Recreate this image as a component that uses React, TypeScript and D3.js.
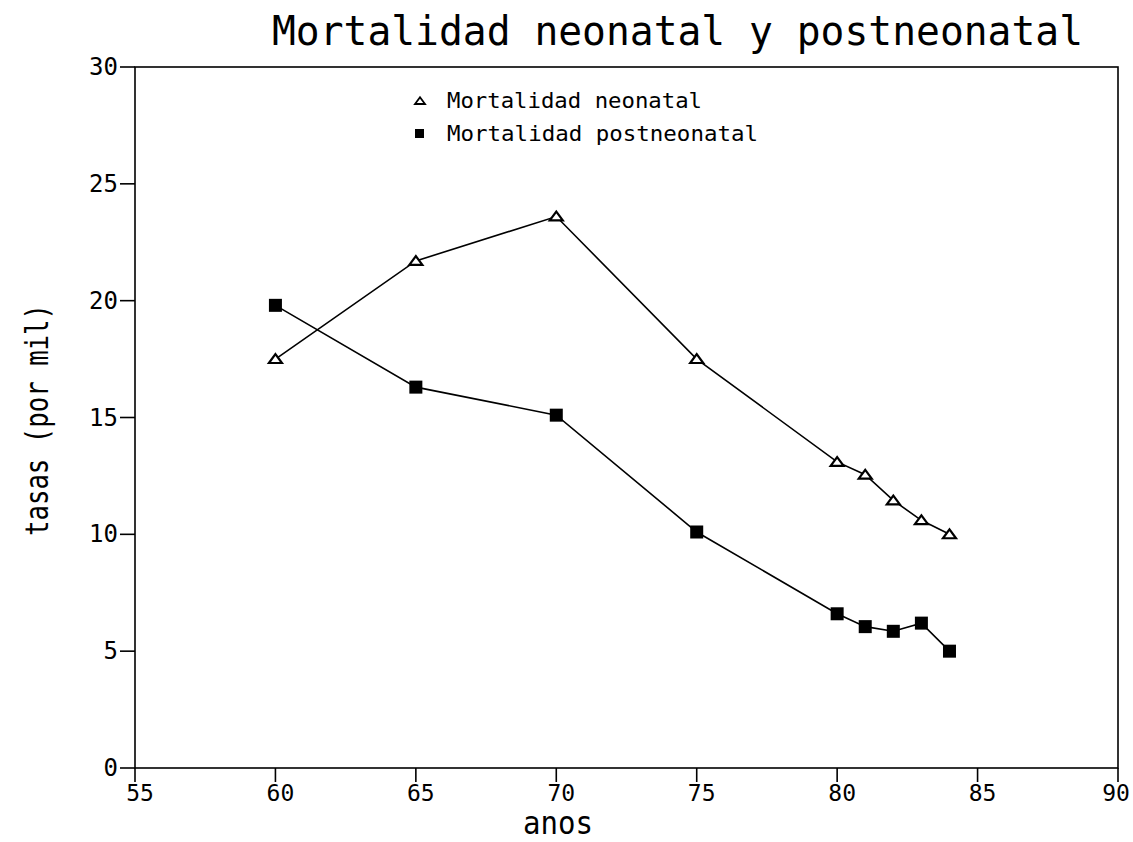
import React from "react";
import * as d3 from "d3";

const years = [60, 65, 70, 75, 80, 81, 82, 83, 84];
const neonatal = [17.5, 21.7, 23.6, 17.5, 13.1, 12.55, 11.45, 10.6, 10.0];
const postneonatal = [19.8, 16.3, 15.1, 10.1, 6.6, 6.05, 5.85, 6.2, 5.0];
const xTicks = [55, 60, 65, 70, 75, 80, 85, 90];
const yTicks = [0, 5, 10, 15, 20, 25, 30];
const title = "Mortalidad neonatal y postneonatal";
const xTitle = "anos";
const yTitle = "tasas (por mil)";
const legendLabels = ["Mortalidad neonatal", "Mortalidad postneonatal"];

const FONT = "'DejaVu Sans Mono', 'Liberation Mono', monospace";

export default function App() {
  const W = 1133, H = 842;
  const left = 135, right = 1118, top = 67, bottom = 768;
  const x = d3.scaleLinear().domain([55, 90]).range([left, right]);
  const y = d3.scaleLinear().domain([0, 30]).range([bottom, top]);
  const line = d3.line<number>().x((_, i) => x(years[i])).y((d) => y(d));

  const tri = (cx: number, cy: number, s: number) =>
    `M${cx - s},${cy + s * 0.6}L${cx + s},${cy + s * 0.6}L${cx},${cy - s * 0.75}Z`;

  return (
    <svg width={W} height={H} style={{ position: "absolute", left: 0, top: 0, background: "#fff" }}>
      <rect x={0} y={0} width={W} height={H} fill="#fff" />
      <text x={272} y={45} fontFamily={FONT} fontSize={40} textLength={811} lengthAdjust="spacingAndGlyphs" fill="#000">
        {title}
      </text>
      {/* frame */}
      <rect x={left} y={top} width={right - left} height={bottom - top} fill="none" stroke="#000" strokeWidth={1.6} />
      {/* y ticks */}
      {yTicks.map((t) => (
        <g key={"y" + t}>
          <line x1={left - 15} x2={left} y1={y(t)} y2={y(t)} stroke="#000" strokeWidth={1.6} />
          <text x={left - 17} y={y(t) + 8} textAnchor="end" fontFamily={FONT} fontSize={24} fill="#000">
            {t}
          </text>
        </g>
      ))}
      {/* x ticks */}
      {xTicks.map((t) => (
        <g key={"x" + t}>
          <line x1={x(t)} x2={x(t)} y1={bottom} y2={bottom + 14} stroke="#000" strokeWidth={1.6} />
          <text
            x={Math.min(x(t) + 5, W - 17)}
            y={801}
            textAnchor="middle"
            fontFamily={FONT}
            fontSize={23}
            fill="#000"
          >
            {t}
          </text>
        </g>
      ))}
      <text x={523} y={834} fontFamily={FONT} fontSize={32} textLength={70} lengthAdjust="spacingAndGlyphs" fill="#000">
        {xTitle}
      </text>
      <text
        transform={`translate(48,536) rotate(-90)`}
        fontFamily={FONT}
        fontSize={32}
        textLength={232}
        lengthAdjust="spacingAndGlyphs"
        fill="#000"
      >
        {yTitle}
      </text>
      {/* lines */}
      <path d={line(neonatal) || ""} fill="none" stroke="#000" strokeWidth={1.6} />
      <path d={line(postneonatal) || ""} fill="none" stroke="#000" strokeWidth={1.6} />
      {neonatal.map((v, i) => (
        <path key={"n" + i} d={tri(x(years[i]), y(v), 6.5)} fill="#fff" stroke="#000" strokeWidth={2.2} />
      ))}
      {postneonatal.map((v, i) => (
        <rect key={"p" + i} x={x(years[i]) - 6.5} y={y(v) - 6.5} width={13} height={13} fill="#000" />
      ))}
      {/* legend */}
      <path d={tri(420, 101, 5)} fill="#fff" stroke="#000" strokeWidth={1.8} />
      <text x={447} y={108} fontFamily={FONT} fontSize={21} textLength={255} lengthAdjust="spacingAndGlyphs" fill="#000">
        {legendLabels[0]}
      </text>
      <rect x={415} y={129} width={9} height={9} fill="#000" />
      <text x={447} y={141} fontFamily={FONT} fontSize={21} textLength={311} lengthAdjust="spacingAndGlyphs" fill="#000">
        {legendLabels[1]}
      </text>
    </svg>
  );
}
